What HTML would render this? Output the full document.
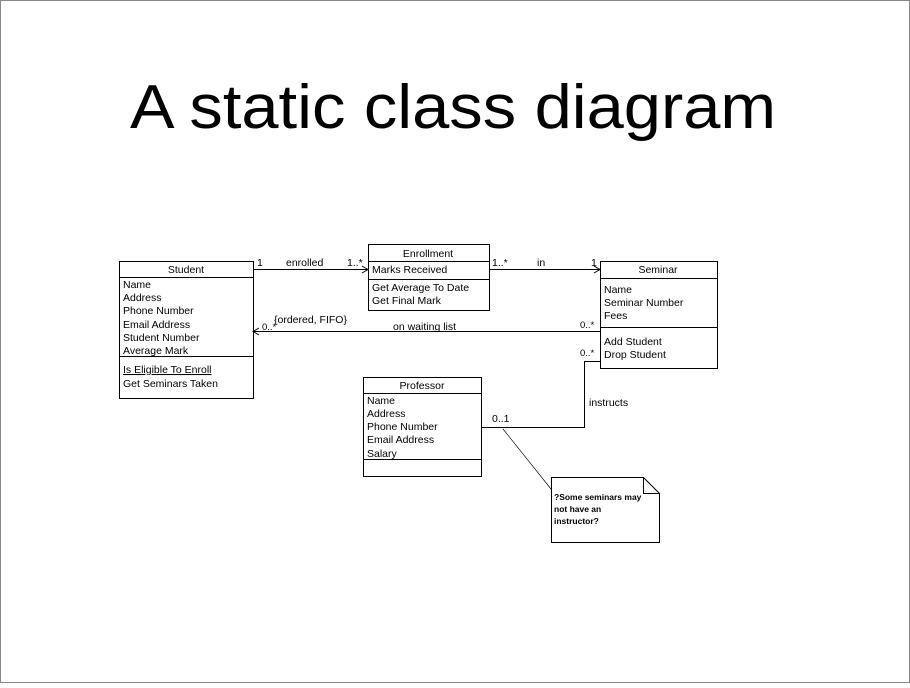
<!DOCTYPE html>
<html><head><style>
body{margin:0;background:#fff}
svg text{font-family:"Liberation Sans",sans-serif}
</style></head><body>
<svg width="910" height="683" xmlns="http://www.w3.org/2000/svg">
<rect x="0.5" y="0.5" width="909" height="682" fill="#fff" stroke="#888"/>
<text x="453" y="128" font-size="62" text-anchor="middle" fill="#000" textLength="646" lengthAdjust="spacingAndGlyphs">A static class diagram</text>
<g stroke="#000" stroke-width="1" fill="none">
<rect x="119.5" y="261.5" width="134" height="137"/>
<line x1="119" y1="277.5" x2="253" y2="277.5"/>
<line x1="119" y1="356.5" x2="253" y2="356.5"/>
<rect x="368.5" y="244.5" width="121" height="66"/>
<line x1="368" y1="261.5" x2="489" y2="261.5"/>
<line x1="368" y1="279.5" x2="489" y2="279.5"/>
<rect x="600.5" y="261.5" width="117" height="107"/>
<line x1="600" y1="278.5" x2="717" y2="278.5"/>
<line x1="600" y1="327.5" x2="717" y2="327.5"/>
<rect x="363.5" y="377.5" width="118" height="99"/>
<line x1="363" y1="393.5" x2="481" y2="393.5"/>
<line x1="363" y1="459.5" x2="481" y2="459.5"/>
<path d="M551.5 477.5 H643.5 L659.5 493.5 V542.5 H551.5 Z"/>
<path d="M643.5 477.5 V493.5 H659.5"/>
<line x1="253" y1="269.5" x2="368" y2="269.5"/>
<path d="M362 266 L368 269.5 L362 273"/>
<line x1="489" y1="269.5" x2="600" y2="269.5"/>
<path d="M594 266 L600 269.5 L594 273"/>
<line x1="253" y1="331.5" x2="600" y2="331.5"/>
<path d="M259 328 L253 331.5 L259 335"/>
<path d="M481 427.5 H584.5 V361.5 H600"/>
<line x1="503" y1="429" x2="551" y2="489" stroke-width="0.7"/>
</g>
<g font-size="10.5" fill="#000">
<text x="186" y="273" text-anchor="middle">Student</text>
<text x="123" y="288">Name</text>
<text x="123" y="301">Address</text>
<text x="123" y="314">Phone Number</text>
<text x="123" y="328">Email Address</text>
<text x="123" y="341">Student Number</text>
<text x="123" y="354">Average Mark</text>
<text x="123" y="373" text-decoration="underline">Is Eligible To Enroll</text>
<text x="123" y="387">Get Seminars Taken</text>
<text x="428" y="257" text-anchor="middle">Enrollment</text>
<text x="372" y="273">Marks Received</text>
<text x="372" y="291">Get Average To Date</text>
<text x="372" y="304">Get Final Mark</text>
<text x="658" y="273" text-anchor="middle">Seminar</text>
<text x="604" y="293">Name</text>
<text x="604" y="306">Seminar Number</text>
<text x="604" y="319">Fees</text>
<text x="604" y="345">Add Student</text>
<text x="604" y="358">Drop Student</text>
<text x="422" y="389" text-anchor="middle">Professor</text>
<text x="367" y="404">Name</text>
<text x="367" y="417">Address</text>
<text x="367" y="430">Phone Number</text>
<text x="367" y="443">Email Address</text>
<text x="367" y="457">Salary</text>
<text x="257" y="266">1</text>
<text x="286" y="266">enrolled</text>
<text x="347" y="266">1..*</text>
<text x="492" y="266">1..*</text>
<text x="537" y="266">in</text>
<text x="591" y="266">1</text>
<text x="262" y="330" font-size="9.5">0..*</text>
<text x="274" y="323">{ordered, FIFO}</text>
<text x="393" y="330">on waiting list</text>
<text x="580" y="328" font-size="9.5">0..*</text>
<text x="580" y="356" font-size="9.5">0..*</text>
<text x="589" y="406">instructs</text>
<text x="492" y="422">0..1</text>
</g>
<g font-size="8.5" font-weight="bold" fill="#000">
<text x="554" y="500">?Some seminars may</text>
<text x="554" y="512">not have an</text>
<text x="554" y="524">instructor?</text>
</g>
</svg>
</body></html>
